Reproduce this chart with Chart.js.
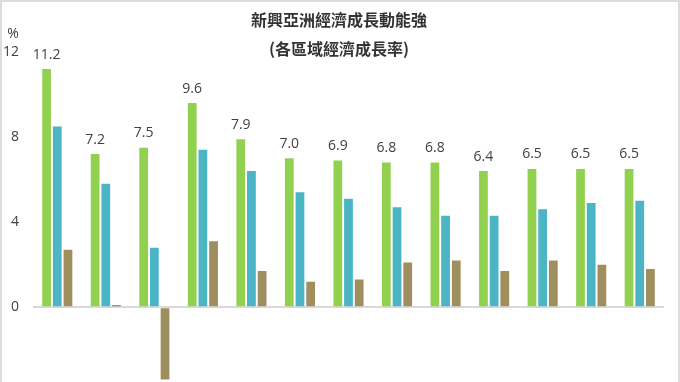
<!DOCTYPE html>
<html>
<head>
<meta charset="utf-8">
<script src="https://cdn.jsdelivr.net/npm/chart.js@4/dist/chart.umd.min.js"></script>
<style>
  html, body { margin: 0; padding: 0; background: #fff; overflow: hidden; }
  #wrap { position: absolute; left: 0; top: 0; width: 680px; height: 382px; overflow: hidden; }
  #frame { position: absolute; left: 0; top: 0; width: 680px; height: 382px; box-sizing: border-box;
           border-top: 2px solid #dcdcdc; border-left: 2px solid #dcdcdc; border-right: 2px solid #dcdcdc;
           pointer-events: none; }
</style>
</head>
<body>
<div id="wrap"><canvas id="c" width="680" height="404"></canvas></div>
<div id="frame"></div>
<script>
// ---- data ----
const categories = ["2007","2008","2009","2010","2011","2012","2013","2014","2015","2016","2017","2018","2019"];
const emergingAsia = [11.2, 7.2, 7.5, 9.6, 7.9, 7.0, 6.9, 6.8, 6.8, 6.4, 6.5, 6.5, 6.5];
const emergingMarkets = [8.5, 5.8, 2.8, 7.4, 6.4, 5.4, 5.1, 4.7, 4.3, 4.3, 4.6, 4.9, 5.0];
const advancedEconomies = [2.7, 0.1, -3.4, 3.1, 1.7, 1.2, 1.3, 2.1, 2.2, 1.7, 2.2, 2.0, 1.8];
const yTicks = [0, 4, 8, 12];
const titleLines = ["新興亞洲經濟成長動能強", "(各區域經濟成長率)"];
const unitLabel = "%";

const labelPlugin = {
  id: 'extras',
  afterDatasetsDraw(chart) {
    const ctx = chart.ctx;
    ctx.save();
    const meta = chart.getDatasetMeta(0);
    ctx.fillStyle = '#404040';
    ctx.font = '14px "Open Sans", "Noto Sans", sans-serif';
    ctx.textAlign = 'center';
    ctx.textBaseline = 'alphabetic';
    meta.data.forEach((bar, i) => {
      ctx.fillText(emergingAsia[i].toFixed(1), bar.x, bar.y - 10.5);
    });
    ctx.fillStyle = '#333333';
    ctx.font = 'bold 16px "Noto Sans CJK TC", "Noto Sans", sans-serif';
    ctx.textBaseline = 'middle';
    ctx.fillText(titleLines[0], 339, 19.5);
    ctx.fillText(titleLines[1], 339, 48.5);
    ctx.fillStyle = '#404040';
    ctx.font = '14px "Open Sans", "Noto Sans", sans-serif';
    ctx.fillText(unitLabel, 13, 34);
    ctx.restore();
  }
};

new Chart(document.getElementById('c'), {
  type: 'bar',
  data: {
    labels: categories,
    datasets: [
      { label: '新興亞洲', data: emergingAsia, backgroundColor: '#92D050' },
      { label: '新興市場', data: emergingMarkets, backgroundColor: '#4BB5C5' },
      { label: '已開發國家', data: advancedEconomies, backgroundColor: '#9F8F5F' }
    ]
  },
  options: {
    responsive: false,
    animation: false,
    events: [],
    layout: { padding: { top: 52, bottom: 0.6, left: 0, right: 16 } },
    datasets: { bar: { categoryPercentage: 0.66, barPercentage: 0.82 } },
    plugins: { legend: { display: false }, title: { display: false }, tooltip: { enabled: false } },
    scales: {
      x: { display: false, grid: { display: false } },
      y: {
        min: -3.5, max: 12,
        afterBuildTicks(scale) { scale.ticks = yTicks.map(v => ({ value: v })); },
        afterFit(scale) { scale.width = 33; },
        border: { display: false },
        grid: {
          drawTicks: false,
          color: c => (c.tick && c.tick.value === 0) ? '#d9d9d9' : 'rgba(0,0,0,0)',
          lineWidth: c => (c.tick && c.tick.value === 0) ? 2 : 0
        },
        ticks: {
          padding: 14,
          color: '#404040',
          font: { family: '"Open Sans", "Noto Sans", sans-serif', size: 14 },
          callback: v => String(v)
        }
      }
    }
  },
  plugins: [labelPlugin]
});
</script>
</body>
</html>
